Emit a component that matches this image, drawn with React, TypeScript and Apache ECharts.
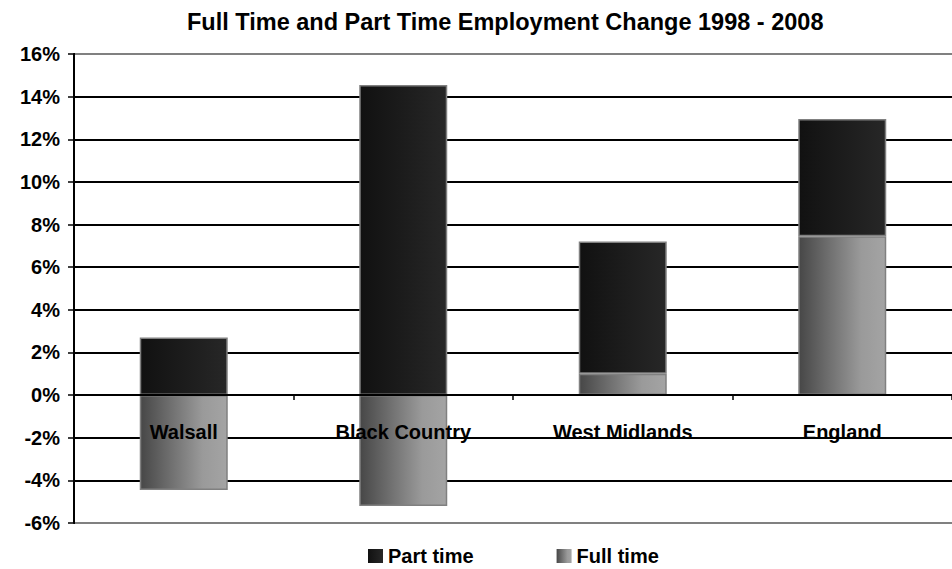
import React, { useEffect, useRef } from "react";
import * as echarts from "echarts";

const categories = ["Walsall", "Black Country", "West Midlands", "England"];
const fullTime = [-4.45, -5.2, 1.0, 7.45];
const partTime = [2.7, 14.55, 6.2, 5.5];
const yTicks = { min: -6, max: 16, interval: 2 };

const FONT = "'Liberation Sans', Arial, sans-serif";

export default function App() {
  const ref = useRef<HTMLDivElement>(null);
  useEffect(() => {
    if (!ref.current) return;
    const chart = echarts.init(ref.current, undefined, { renderer: "svg" });
    const partGrad = new echarts.graphic.LinearGradient(0, 0, 1, 0, [
      { offset: 0, color: "#111111" },
      { offset: 1, color: "#272727" },
    ]);
    const fullGrad = new echarts.graphic.LinearGradient(0, 0, 1, 0, [
      { offset: 0, color: "#474747" },
      { offset: 0.72, color: "#9a9a9a" },
      { offset: 1, color: "#a4a4a4" },
    ]);
    const gridTop = 54;
    const gridBottom = 46;
    const gridHeight = 569 - gridTop - gridBottom;
    const zeroOffset = -(gridHeight * (0 - yTicks.min)) / (yTicks.max - yTicks.min);
    chart.setOption({
      animation: false,
      backgroundColor: "#ffffff",
      textStyle: { fontFamily: FONT },
      title: {
        text: "Full Time and Part Time Employment Change 1998 - 2008",
        left: 182,
        top: 5,
        textStyle: { fontFamily: FONT, fontSize: 23.5, fontWeight: "bold", color: "#000" },
      },
      legend: {
        data: ["Part time", "Full time"],
        left: 368,
        top: 545,
        padding: 0,
        icon: "rect",
        itemWidth: 15,
        itemHeight: 14,
        itemGap: 83,
        itemStyle: { borderWidth: 0 },
        textStyle: { fontFamily: FONT, fontSize: 20, lineHeight: 22, fontWeight: "bold", color: "#000" },
      },
      grid: { left: 74, top: gridTop, width: 881, bottom: gridBottom, containLabel: false },
      xAxis: {
        type: "category",
        data: categories,
        z: 10,
        offset: zeroOffset,
        axisLine: { onZero: false, lineStyle: { color: "#000", width: 2 } },
        axisTick: { show: true, length: 5, lineStyle: { color: "#000", width: 1.5 } },
        axisLabel: {
          margin: 27,
          fontFamily: FONT,
          fontSize: 20,
          fontWeight: "bold",
          color: "#000",
        },
      },
      yAxis: {
        type: "value",
        min: yTicks.min,
        max: yTicks.max,
        interval: yTicks.interval,
        axisLine: { show: true, lineStyle: { color: "#000", width: 2 } },
        axisTick: { show: true, length: 6, lineStyle: { color: "#000", width: 1.5 } },
        axisLabel: {
          margin: 14,
          formatter: (v: number) => v + "%",
          fontFamily: FONT,
          fontSize: 20,
          fontWeight: "bold",
          color: "#000",
        },
        splitLine: { show: true, lineStyle: { width: 2, color: "#000" } },
      },
      series: [
        {
          name: "Full time",
          type: "bar",
          stack: "total",
          barWidth: 88,
          data: fullTime,
          itemStyle: { color: fullGrad, borderColor: "#808080", borderWidth: 1.5 },
        },
        {
          name: "Part time",
          type: "bar",
          stack: "total",
          barWidth: 88,
          data: partTime,
          itemStyle: { color: partGrad, borderColor: "#808080", borderWidth: 1.5 },
        },
      ],
      graphic: [
        {
          type: "line",
          shape: { x1: 75, y1: gridTop, x2: 952, y2: gridTop },
          style: { stroke: "#808080", lineWidth: 2 },
          z: 5,
        },
        {
          type: "line",
          shape: { x1: 75, y1: 569 - gridBottom, x2: 952, y2: 569 - gridBottom },
          style: { stroke: "#808080", lineWidth: 2 },
          z: 5,
        },
      ],
    });
    return () => chart.dispose();
  }, []);
  return <div ref={ref} style={{ width: 952, height: 569, position: "absolute", left: 0, top: 0 }} />;
}
